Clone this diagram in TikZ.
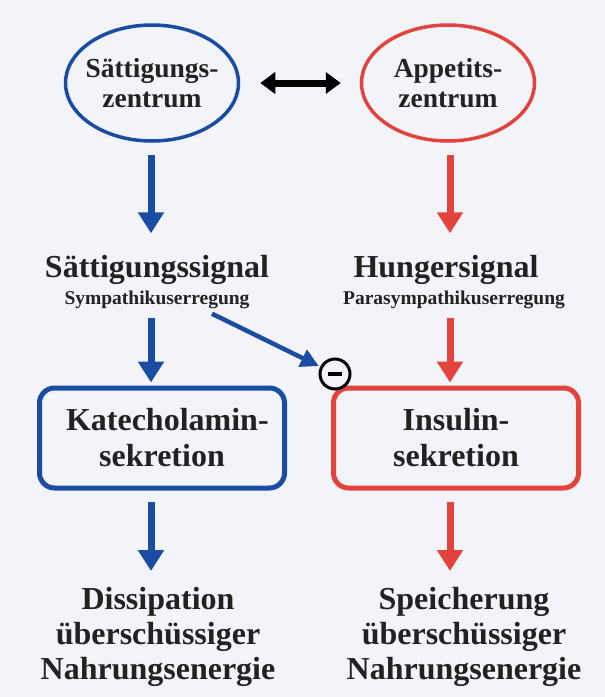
\documentclass[tikz,border=0pt]{standalone}
\usepackage{fontspec}
\setmainfont{Liberation Serif}
\usetikzlibrary{shapes.geometric,arrows.meta}
\definecolor{bg}{HTML}{F3F4F9}
\definecolor{cblue}{HTML}{1A4CA3}
\definecolor{cred}{HTML}{E2443D}
\definecolor{ctext}{HTML}{222222}
\begin{document}
\begin{tikzpicture}[x=1pt,y=-1pt,
  oval/.style={ellipse, draw, line width=3.5pt, minimum width=173pt, minimum height=116pt,
    inner xsep=-20pt, inner ysep=-10pt, align=center, text=ctext, font=\bfseries\fontsize{27.5}{30}\selectfont},
  procbox/.style={draw, rounded corners=15pt, line width=5pt, minimum width=245pt,
    minimum height=100pt, align=center, text=ctext, font=\bfseries\fontsize{32}{36}\selectfont},
  title/.style={inner sep=0pt, text=ctext, text height=22pt, text depth=7pt,
    font=\bfseries\fontsize{32}{34}\selectfont},
  subtitle/.style={inner sep=0pt, text=ctext, text height=14pt, text depth=5pt,
    font=\bfseries\fontsize{19.5}{22}\selectfont},
  result/.style={inner sep=0pt, align=center, text=ctext, anchor=north,
    font=\bfseries\fontsize{32}{35}\selectfont},
  bigarrow/.style={line width=7pt, -{Triangle[width=25pt,length=21pt]}},
  diagarrow/.style={line width=4.5pt, -{Triangle[width=18pt,length=18pt]}},
  dblarrow/.style={line width=7pt, {Triangle[width=21pt,length=15pt]}-{Triangle[width=21pt,length=15pt]}}
]
\fill[bg] (0,0) rectangle (605,697);
\useasboundingbox (0,0) rectangle (605,697);

% top ellipses
\node[oval, draw=cblue] (sat) at (152,83) {Sättigungs-\\zentrum};
\node[oval, draw=cred] (app) at (448,83) {Appetits-\\zentrum};
\draw[dblarrow, black, shorten <=20pt, shorten >=19pt] (sat) -- (app);

% signals
\node[title] (satsig) at (157,270) {Sättigungssignal};
\node[subtitle] (symp) at (157,300) {Sympathikuserregung};
\node[title] (hunsig) at (446,270) {Hungersignal};
\node[subtitle] (paras) at (454,300) {Parasympathikuserregung};

% boxes
\node[procbox, draw=cblue] (kat) at (162,438) {Katecholamin\rlap{-}\\sekretion};
\node[procbox, draw=cred] (ins) at (456,438) {Insulin-\\sekretion};

% results
\node[result] (diss) at (158,587) {Dissipation\\überschüssiger\\Nahrungsenergie};
\node[result] (spei) at (464,587) {Speicherung\\überschüssiger\\Nahrungsenergie};

% minus circle
\node[circle, draw=black, line width=3pt, minimum size=30pt, inner sep=0pt] (minus) at (335,374) {};
\draw[line width=3.2pt, black] ([xshift=-7pt]minus.center) -- ([xshift=7pt]minus.center);

% column guides
\coordinate (lcol) at (151,0);
\coordinate (rcol) at (450,0);

% arrows left column
\draw[bigarrow, cblue, shorten <=12pt, shorten >=22pt] (lcol |- sat.south) -- (lcol |- satsig.north);
\draw[bigarrow, cblue, shorten <=8pt, shorten >=3pt] (lcol |- symp.south) -- (lcol |- kat.north);
\draw[bigarrow, cblue, shorten <=11pt, shorten >=16pt] (lcol |- kat.south) -- (lcol |- diss.north);

% arrows right column
\draw[bigarrow, cred, shorten <=12pt, shorten >=22pt] (rcol |- app.south) -- (rcol |- hunsig.north);
\draw[bigarrow, cred, shorten <=8pt, shorten >=3pt] (rcol |- paras.south) -- (rcol |- ins.north);
\draw[bigarrow, cred, shorten <=11pt, shorten >=16pt] (rcol |- ins.south) -- (rcol |- spei.north);

% inhibition arrow
\draw[diagarrow, cblue, shorten >=1.5pt] ([xshift=55pt,yshift=-4pt]symp.south) -- (minus);
\end{tikzpicture}
\end{document}
